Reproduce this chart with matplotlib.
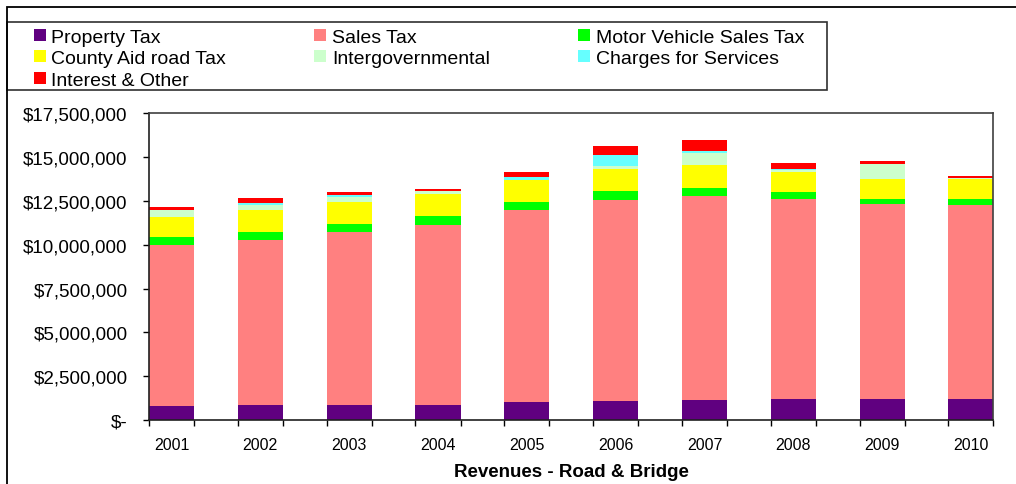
"""
Revenues - Road & Bridge, stacked bars by source 2001-2010
"""

import matplotlib.pyplot as plt
import numpy as np
from matplotlib.patches import Rectangle
from matplotlib.ticker import FuncFormatter, FixedLocator

plt.rcParams["font.family"] = ["Liberation Sans", "DejaVu Sans"]

years = ["2001", "2002", "2003", "2004", "2005", "2006", "2007", "2008", "2009", "2010"]

# values in dollars
property_tax = [800000, 860000, 860000, 860000, 1030000, 1080000, 1140000, 1200000, 1200000, 1200000]
sales_tax = [9200000, 9410000, 9870000, 10290000, 10950000, 11470000, 11640000, 11430000, 11130000, 11090000]
motor_vehicle = [440000, 460000, 460000, 490000, 460000, 520000, 460000, 380000, 280000, 340000]
county_aid = [1160000, 1250000, 1250000, 1260000, 1260000, 1270000, 1330000, 1160000, 1160000, 1140000]
intergov = [370000, 290000, 300000, 150000, 20000, 160000, 670000, 80000, 840000, 30000]
charges = [20000, 110000, 100000, 20000, 150000, 620000, 110000, 70000, 0, 10000]
interest_other = [170000, 290000, 170000, 130000, 280000, 520000, 630000, 350000, 170000, 110000]

series = [
    ("Property Tax", property_tax, "#600080"),
    ("Sales Tax", sales_tax, "#FF8080"),
    ("Motor Vehicle Sales Tax", motor_vehicle, "#00FF00"),
    ("County Aid road Tax", county_aid, "#FFFF00"),
    ("Intergovernmental", intergov, "#CCFFCC"),
    ("Charges for Services", charges, "#66FFFF"),
    ("Interest & Other", interest_other, "#FF0000"),
]


def dollars(v, pos):
    if v == 0:
        return "$-"
    return "${:,.0f}".format(v)


W, H = 1016, 485
fig = plt.figure(figsize=(W / 100, H / 100), dpi=100)
ax = fig.add_axes([149 / W, 1 - 421 / H, (993.5 - 149) / W, (421 - 114.3) / H])

x = np.arange(len(years))
width = 0.507
bottom = np.zeros(len(years))
handles = []
for name, vals, color in series:
    bars = ax.bar(x, vals, width, bottom=bottom, color=color, label=name, linewidth=0)
    handles.append(bars)
    bottom += np.array(vals)

ax.set_xlim(-width / 2, len(years) - 1 + width / 2)
ax.set_ylim(0, 17500000)
ax.set_yticks(np.arange(0, 17500001, 2500000))
ax.yaxis.set_major_formatter(FuncFormatter(dollars))
ax.tick_params(axis="y", length=4.5, width=1, pad=11, labelsize=13.5, direction="out")

ax.set_xticks(x)
ax.set_xticklabels(years)
ax.tick_params(axis="x", which="major", length=0, pad=12, labelsize=11.5)
edges = np.concatenate([x - width / 2, x + width / 2])
ax.xaxis.set_minor_locator(FixedLocator(edges))
ax.tick_params(axis="x", which="minor", length=4.5, width=1, direction="out")

ax.set_xlabel("Revenues - Road & Bridge", fontsize=13.5, fontweight="bold", labelpad=8)

for side in ["left", "bottom"]:
    ax.spines[side].set_color("#202020")
    ax.spines[side].set_linewidth(1.2)
for side in ["top", "right"]:
    ax.spines[side].set_color("#404040")
    ax.spines[side].set_linewidth(1.2)

# legend, row-major order like the original
order = [0, 3, 6, 1, 4, 2, 5]
leg = fig.legend(
    [handles[i] for i in order],
    [series[i][0] for i in order],
    ncol=3,
    loc="upper left",
    bbox_to_anchor=(30 / W, 1 - 30.5 / H, (808 - 30) / W, 0.01),
    mode="expand",
    fontsize=14,
    frameon=False,
    handlelength=0.6,
    handleheight=0.6,
    handletextpad=0.3,
    labelspacing=0.23,
    borderpad=0.2,
    borderaxespad=0,
)

# legend box
fig.patches.append(
    Rectangle((7 / W, 1 - 91 / H), (827 - 7) / W, 68 / H, transform=fig.transFigure,
              fill=False, edgecolor="#303030", linewidth=1.2)
)

# outer chart-area frame (cut off on the right and bottom)
fig.patches.append(
    Rectangle((7 / W, -0.2), 1.5, 1.2 - 8.3 / H, transform=fig.transFigure,
              fill=False, edgecolor="black", linewidth=1.3, clip_on=False)
)

fig.savefig("out.png", dpi=100)
